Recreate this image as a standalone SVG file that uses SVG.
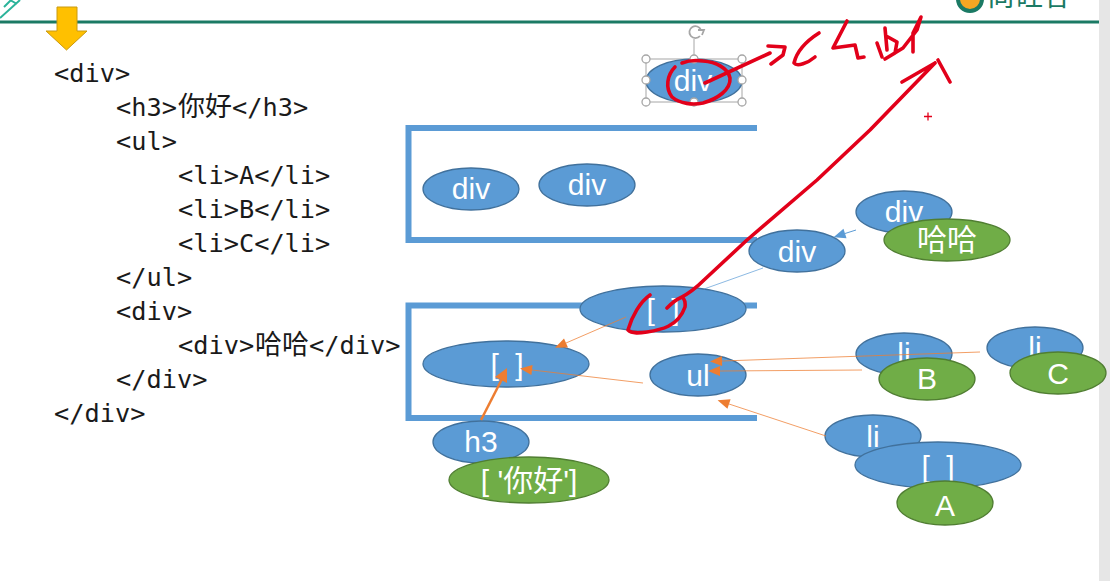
<svg xmlns="http://www.w3.org/2000/svg" width="1110" height="581" viewBox="0 0 1110 581">
<style>
.code{font-family:"DejaVu Sans Mono","Noto Sans CJK SC",monospace;font-size:25.3px;fill:#1a1a1a}
.cjk{font-family:"Noto Sans CJK SC",sans-serif;font-size:27px;fill:#1a1a1a}
.b{fill:#5b9bd5;stroke:#41719c;stroke-width:1.3}
.g{fill:#70ad47;stroke:#507e32;stroke-width:1.3}
.t{font-family:"Liberation Sans","Noto Sans CJK SC",sans-serif;font-size:30px;fill:#fff;text-anchor:middle}
.br{word-spacing:8px}
.frame{fill:none;stroke:#5b9bd5;stroke-width:6}
.thin{fill:none;stroke:#ed7d31;stroke-width:1;stroke-opacity:.75;marker-end:url(#oa)}
.blue{fill:none;stroke:#5b9bd5;stroke-width:1}
.red{fill:none;stroke:#e2001a;stroke-width:3.600;stroke-linecap:round;stroke-linejoin:round}
.h{fill:#fff;stroke:#a6a6a6;stroke-width:1.3}
</style>
<defs>
<marker id="oa" markerUnits="userSpaceOnUse" markerWidth="14" markerHeight="12" refX="1" refY="5.500" orient="auto"><path d="M1 0.500L13 5.500L1 10.500Z" fill="#ed7d31"/></marker>
<marker id="ba" markerUnits="userSpaceOnUse" markerWidth="14" markerHeight="12" refX="1" refY="5.500" orient="auto"><path d="M1 0.500L13 5.500L1 10.500Z" fill="#5b9bd5"/></marker>
</defs>
<rect width="1110" height="581" fill="#fff"/>
<g id="chrome">
<rect x="1099" y="0" width="11" height="581" fill="#e6e6e6"/>
<rect x="0" y="20.500" width="1099" height="3" fill="#1b7a64"/>
<path d="M20 0L0 18M11 0L4 7M17 4L10 0" fill="none" stroke="#2bb39a" stroke-width="2"/>
<circle cx="970" cy="-1" r="12" fill="#f5a623" stroke="#1b7a64" stroke-width="4"/>
<text x="987" y="6" font-family="Noto Sans CJK SC,sans-serif" font-size="28" fill="#1b7a64">尚硅谷</text>
</g>
<path id="down-arrow" d="M57 7H77V31H87L66.500 50L46 31H57Z" fill="#ffc000" stroke="#c99a10" stroke-width="1"/>
<g id="code">
<text class="code" x="54" y="82">&lt;div&gt;</text>
<text class="code" x="116" y="116">&lt;h3&gt;</text><text class="cjk" x="178" y="116">你好</text><text class="code" x="232" y="116">&lt;/h3&gt;</text>
<text class="code" x="116" y="150">&lt;ul&gt;</text>
<text class="code" x="178" y="184">&lt;li&gt;A&lt;/li&gt;</text>
<text class="code" x="178" y="218">&lt;li&gt;B&lt;/li&gt;</text>
<text class="code" x="178" y="252">&lt;li&gt;C&lt;/li&gt;</text>
<text class="code" x="116" y="286">&lt;/ul&gt;</text>
<text class="code" x="116" y="320">&lt;div&gt;</text>
<text class="code" x="178" y="354">&lt;div&gt;</text><text class="cjk" x="255" y="354">哈哈</text><text class="code" x="309" y="354">&lt;/div&gt;</text>
<text class="code" x="116" y="388">&lt;/div&gt;</text>
<text class="code" x="54" y="422">&lt;/div&gt;</text>
</g>
<g id="frames">
<path id="frame-top" class="frame" d="M757 128H408.500V240H757"/>
<path id="frame-bottom" class="frame" d="M757 305.500H408.500V418H757"/>
</g>
<g id="selection">
<rect x="646" y="59" width="96" height="43" fill="none" stroke="#a6a6a6" stroke-width="1"/>
<path d="M694 39V59" stroke="#a6a6a6" fill="none"/>
</g>
<g id="n-root"><ellipse class="b" cx="694" cy="81" rx="48" ry="22"/><text class="t" x="693" y="91">div</text></g>
<g id="handles">
<circle class="h" cx="646" cy="59" r="4"/><circle class="h" cx="694" cy="59" r="4"/><circle class="h" cx="742" cy="59" r="4"/>
<circle class="h" cx="646" cy="80" r="4"/><circle class="h" cx="742" cy="80" r="4"/>
<circle class="h" cx="646" cy="102" r="4"/><circle class="h" cx="694" cy="102" r="4"/><circle class="h" cx="742" cy="102" r="4"/>
<path d="M701 30A6 6 0 1 0 700 36M698 30L704 30L702 35" fill="none" stroke="#a6a6a6" stroke-width="1.800"/>
</g>
<g id="n-div1"><ellipse class="b" cx="471" cy="189" rx="48" ry="21"/><text class="t" x="471" y="199">div</text></g>
<g id="n-div2"><ellipse class="b" cx="587" cy="185" rx="48" ry="21"/><text class="t" x="587" y="195">div</text></g>
<g id="n-div-inner"><ellipse class="b" cx="904" cy="212" rx="48" ry="21"/><text class="t" x="904" y="222">div</text></g>
<g id="n-haha"><ellipse class="g" cx="947" cy="240" rx="63" ry="21"/><text class="t" x="947" y="250">哈哈</text></g>
<g id="n-div-mid"><ellipse class="b" cx="797" cy="251" rx="48" ry="21"/><text class="t" x="797" y="262">div</text></g>
<g id="n-arr-top"><ellipse class="b" cx="663" cy="309" rx="83" ry="23"/><text class="t br" x="663" y="320">[ ]</text></g>
<g id="n-arr-left"><ellipse class="b" cx="506" cy="364" rx="83" ry="23"/><text class="t br" x="507" y="375">[ ]</text></g>
<g id="n-ul"><ellipse class="b" cx="698" cy="375" rx="48" ry="21"/><text class="t" x="698" y="386">ul</text></g>
<g id="n-li-b"><ellipse class="b" cx="904" cy="354" rx="48" ry="21"/><text class="t" x="904" y="364">li</text></g>
<g id="n-b"><ellipse class="g" cx="927" cy="379" rx="48" ry="21"/><text class="t" x="927" y="389">B</text></g>
<g id="n-li-c"><ellipse class="b" cx="1035" cy="348" rx="48" ry="21"/><text class="t" x="1035" y="358">li</text></g>
<g id="n-c"><ellipse class="g" cx="1058" cy="373" rx="48" ry="21"/><text class="t" x="1058" y="384">C</text></g>
<g id="n-li-a"><ellipse class="b" cx="873" cy="436" rx="48" ry="21"/><text class="t" x="873" y="447">li</text></g>
<g id="n-arr-a"><ellipse class="b" cx="938" cy="465" rx="83" ry="23"/><text class="t br" x="938" y="477">[ ]</text></g>
<g id="n-a"><ellipse class="g" cx="945" cy="503" rx="48" ry="22"/><text class="t" x="945" y="516">A</text></g>
<g id="n-h3"><ellipse class="b" cx="481" cy="442" rx="48" ry="21"/><text class="t" x="481" y="452">h3</text></g>
<g id="n-nihao"><ellipse class="g" cx="529" cy="480" rx="80" ry="23"/><text class="t" x="529" y="491">[ '你好']</text></g>
<g id="connectors">
<path class="blue" d="M856 230L845 233.500" style="marker-end:url(#ba)"/>
<path class="blue" d="M763 268L704 289" stroke-opacity=".7"/>
<path class="thin" d="M626 317L566 343"/>
<path class="thin" d="M643 383L532 370"/>
<path class="thin" d="M862 370L720 371"/>
<path class="thin" d="M980 352L722 361"/>
<path class="thin" d="M826 436L729 404"/>
<path d="M481 420L502 379" fill="none" stroke="#ed7d31" stroke-width="2.500"/>
<path d="M507 368L495 377L507 383Z" fill="#ed7d31"/>
</g>
<g id="annotations">
<path class="red" d="M705 83L770 53M768 46L785 47L783 55L771 64"/>
<path class="red" d="M675 67C667 75 665 88 672 97C680 104 693 105 703 103C717 99 731 90 730 78C728 68 716 62 703 61C695 60 687 61 682 63"/>
<path class="red" d="M819 33C808 40 797 50 794 63C797 67 808 63 815 57"/>
<path class="red" d="M847 21L833 48L855 45L858 58L864 57"/>
<path class="red" d="M885 28L887 50M877 43L882 57M888 37L897 42L895 53L885 59L903 48L917 30L921 17L913 33L913 52"/>
<path class="red" d="M650 295C640 302 632 316 628 330C632 334 640 333 647 332C660 330 678 327 685 307C686 299 682 296 680 298C675 300 670 305 667 308M680 298C690 293 698 286 704 280L747 240L817 180L870 130L935 63M902 82L935 63M938 60L950 82"/>
<path d="M924 116.500H932M928 112.500V120.500" stroke="#e2001a" stroke-width="1.300" fill="none"/>
</g>
</svg>
